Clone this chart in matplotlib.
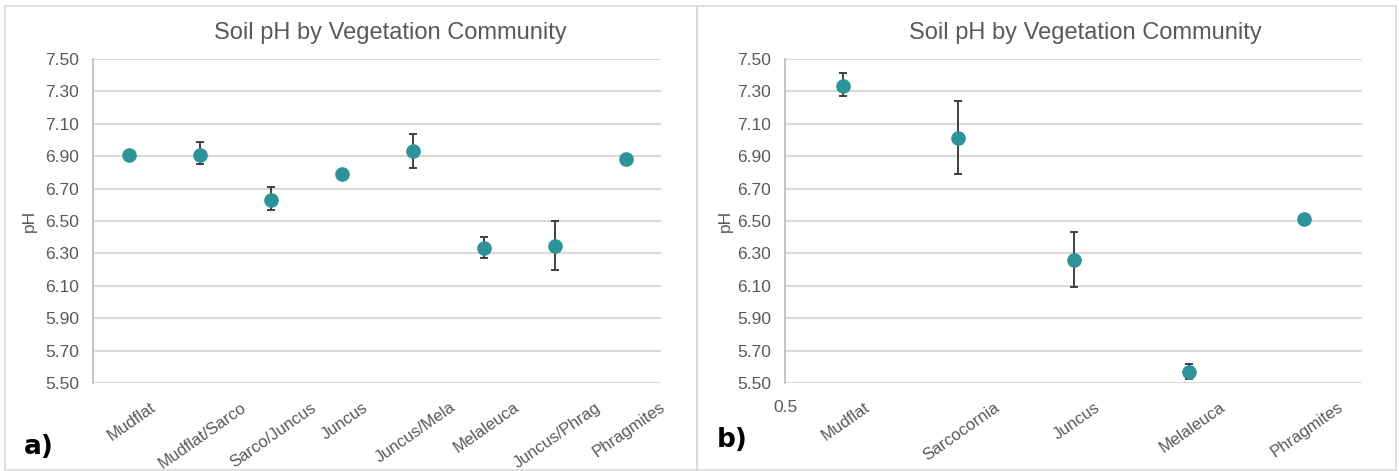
import matplotlib
matplotlib.use("Agg")
import matplotlib.pyplot as plt
from matplotlib.patches import Rectangle
from matplotlib.transforms import ScaledTranslation

# ---- data ----
cats_a = ["Mudflat", "Mudflat/Sarco", "Sarco/Juncus", "Juncus", "Juncus/Mela",
          "Melaleuca", "Juncus/Phrag", "Phragmites"]
ph_a = [6.91, 6.91, 6.63, 6.79, 6.93, 6.335, 6.345, 6.88]
err_lo_a = [0.0, 0.06, 0.06, 0.01, 0.10, 0.065, 0.15, 0.01]
err_hi_a = [0.0, 0.08, 0.08, 0.01, 0.11, 0.065, 0.155, 0.01]

cats_b = ["Mudflat", "Sarcocornia", "Juncus", "Melaleuca", "Phragmites"]
ph_b = [7.335, 7.01, 6.26, 5.57, 6.51]
err_lo_b = [0.065, 0.22, 0.165, 0.045, 0.0]
err_hi_b = [0.08, 0.23, 0.17, 0.05, 0.0]

yticks = [5.50, 5.70, 5.90, 6.10, 6.30, 6.50, 6.70, 6.90, 7.10, 7.30, 7.50]
title = "Soil pH by Vegetation Community"

plt.rcParams["font.family"] = ["Liberation Sans", "DejaVu Sans"]

TEAL = "#2E9399"
GRAY_TXT = "#595959"
GRID = "#d9d9d9"

W, H = 1399, 471
fig = plt.figure(figsize=(W / 100, H / 100), dpi=100)

def fx(px):
    return px / W

def fy(py):
    return 1 - py / H

# panel frames
for x0, x1 in [(5, 697), (697, 1396)]:
    fig.patches.append(Rectangle((fx(x0), fy(470)), fx(x1 - x0), (470 - 6) / H,
                                 transform=fig.transFigure, fill=False,
                                 edgecolor=GRID, linewidth=1.2))

shift = ScaledTranslation(3 / 100, 0, fig.dpi_scale_trans)

def style(ax, lp):
    ax.set_ylim(5.50, 7.50)
    ax.set_yticks(yticks)
    ax.set_yticklabels([f"{v:.2f}" for v in yticks])
    ax.yaxis.grid(True, color=GRID, linewidth=1.5)
    ax.set_axisbelow(True)
    for s in ["top", "right", "bottom"]:
        ax.spines[s].set_visible(False)
    ax.spines["left"].set_color("#bfbfbf")
    ax.spines["left"].set_linewidth(1.3)
    ax.tick_params(axis="both", length=0, colors=GRAY_TXT)
    ax.tick_params(axis="y", pad=10, labelsize=12.5)
    ax.tick_params(axis="x", pad=12, labelsize=12)
    ax.set_ylabel("pH", color=GRAY_TXT, fontsize=12.5, labelpad=lp)

# ---- panel a ----
axa = fig.add_axes([fx(93), fy(383), fx(661 - 93), (383 - 59) / H])
xa = list(range(len(cats_a)))
axa.errorbar(xa, ph_a, yerr=[err_lo_a, err_hi_a], fmt="o", color=TEAL,
             markersize=9.5, ecolor="#404040", elinewidth=1.4, capsize=3,
             capthick=1.4, zorder=3)
axa.set_xlim(-0.5, len(cats_a) - 0.5)
axa.set_xticks(xa)
axa.set_xticklabels(cats_a, rotation=35, ha="center", va="top")
style(axa, 6)
for t in axa.get_xticklabels():
    t.set_transform(t.get_transform() + shift)

# ---- panel b ----
axb = fig.add_axes([fx(785), fy(383), fx(1362 - 785), (383 - 59) / H])
xb = list(range(1, len(cats_b) + 1))
axb.errorbar(xb, ph_b, yerr=[err_lo_b, err_hi_b], fmt="o", color=TEAL,
             markersize=9.5, ecolor="#404040", elinewidth=1.4, capsize=3,
             capthick=1.4, zorder=3)
axb.set_xlim(0.5, len(cats_b) + 0.5)
axb.set_xticks([0.5] + xb)
axb.set_xticklabels(["0.5"] + cats_b, rotation=35, ha="center", va="top")
style(axb, 3)
lbls = axb.get_xticklabels()
lbls[0].set_rotation(0)
lbls[0].set_fontsize(12.5)
for t in lbls[1:]:
    t.set_transform(t.get_transform() + shift)

# titles and panel letters
fig.text(fx(390), fy(33), title, ha="center", va="center", fontsize=17, color=GRAY_TXT)
fig.text(fx(1085), fy(33), title, ha="center", va="center", fontsize=17, color=GRAY_TXT)
fig.text(fx(24), fy(447), "a)", ha="left", va="center", fontsize=19,
         fontweight="bold", color="black", family=["DejaVu Sans"])
fig.text(fx(717), fy(440), "b)", ha="left", va="center", fontsize=19,
         fontweight="bold", color="black", family=["DejaVu Sans"])

fig.savefig("out.png", dpi=100)
